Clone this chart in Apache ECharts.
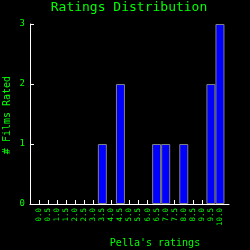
<!DOCTYPE html>
<html>
<head>
<meta charset="utf-8">
<script src="https://cdn.jsdelivr.net/npm/echarts@6/dist/echarts.min.js"></script>
<style>
html,body{margin:0;padding:0;background:#000;}
#c{width:250px;height:250px;}
</style>
</head>
<body>
<div id="c"></div>
<script>
var categories = ['0.0','0.5','1.0','1.5','2.0','2.5','3.0','3.5','4.0','4.5','5.0','5.5','6.0','6.5','7.0','7.5','8.0','8.5','9.0','9.5','10.0'];
var filmCounts = [0,0,0,0,0,0,0,1,0,2,0,0,0,1,1,0,1,0,0,2,3];
var yTicks = [0,1,2,3];

var titleText = 'Ratings Distribution';
var xName = "Pella's ratings";
var yName = '# Films Rated';

var FONT = 'DejaVu Sans Mono';
var GREEN = '#00ff00';

// pad axis with empty slots at both ends (axis margin)
var axisCats = [''].concat(categories).concat(['']);
var axisVals = [null].concat(filmCounts.map(function(v){return v>0?v:null;})).concat([null]);

var chart = echarts.init(document.getElementById('c'), null, {renderer:'canvas'});
chart.setOption({
  backgroundColor:'#000',
  animation:false,
  grid:{left:30,right:21,top:24,bottom:46},
  xAxis:{
    type:'category',
    data:axisCats,
    boundaryGap:false,
    axisLine:{lineStyle:{color:'#fff',width:1}},
    axisTick:{inside:true,length:4,lineStyle:{color:'#fff'},
      interval:function(i){return i>0 && i<axisCats.length-1;}},
    axisLabel:{interval:0,rotate:90,color:GREEN,fontFamily:FONT,fontSize:7.5,margin:4},
    splitLine:{show:false}
  },
  yAxis:{
    type:'value',
    min:yTicks[0],max:yTicks[yTicks.length-1],interval:1,
    axisLine:{show:true,lineStyle:{color:'#fff',width:1}},
    axisTick:{show:true,inside:true,length:4,lineStyle:{color:'#fff'}},
    axisLabel:{color:GREEN,fontFamily:FONT,fontSize:9,margin:5},
    splitLine:{show:false}
  },
  series:[{
    type:'bar',
    data:axisVals,
    barWidth:9,
    itemStyle:{color:'#0000ff',borderColor:'#808080',borderWidth:1}
  }],
  graphic:[
    {type:'text',style:{text:titleText,fill:GREEN,font:'13px "'+FONT+'"',textAlign:'center',textVerticalAlign:'middle'},position:[129,8]},
    {type:'text',style:{text:xName,fill:GREEN,font:'10px "'+FONT+'"',textAlign:'center',textVerticalAlign:'middle'},position:[155,243]},
    {type:'text',style:{text:yName,fill:GREEN,font:'10px "'+FONT+'"',textAlign:'center',textVerticalAlign:'middle'},position:[7.5,115],rotation:Math.PI/2}
  ]
});
</script>
</body>
</html>
